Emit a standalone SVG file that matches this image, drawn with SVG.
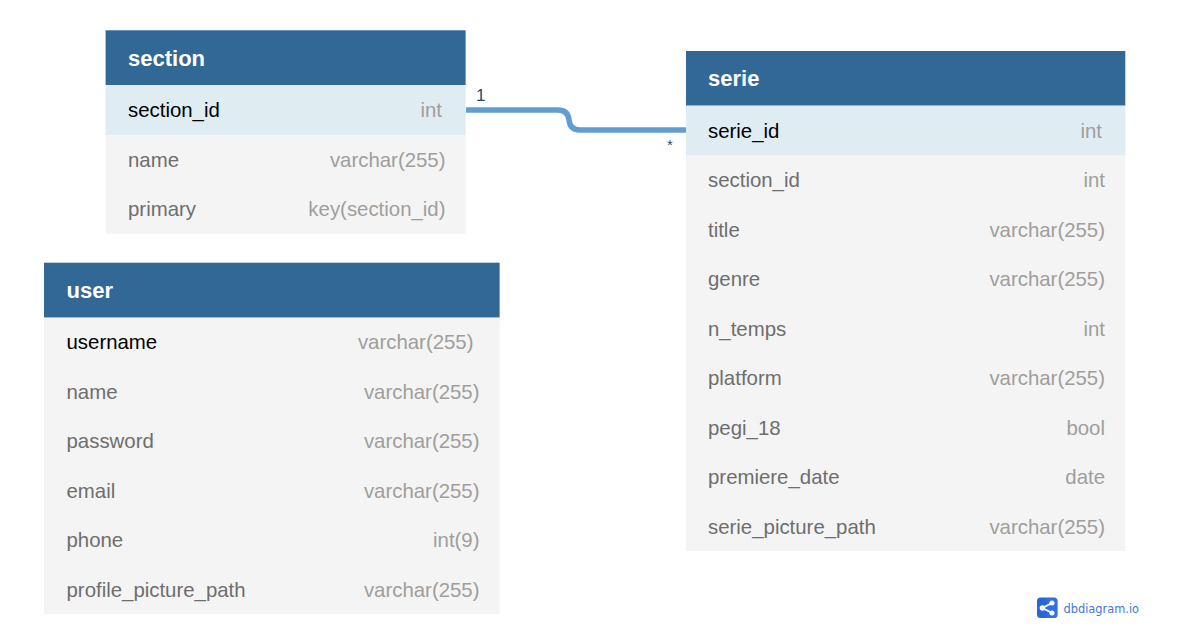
<svg xmlns="http://www.w3.org/2000/svg" width="1178" height="644" viewBox="0 0 1178 644">
<style>
text{font-family:"Liberation Sans",Arial,sans-serif}
.h{fill:#316896}
.b{fill:#f4f4f4}
.k{fill:#dfedf3}
.t{font-size:22px;font-weight:700;fill:#fff}
.f{font-size:20.4px;fill:#6e6e6e}
.p{font-size:20.4px;fill:#000}
.y{font-size:20.4px;fill:#a09e9c;text-anchor:end}
.c{fill:none;stroke:#629dcf;stroke-width:5.5}
.l{font-size:15px;fill:#1f4e6e}
</style>
<rect width="1178" height="644" fill="#fff"/>
<g id="connectors">
<path class="c" d="M466 110H558Q568 110 569 120Q570 130 580 130H686"/>
<text class="l" x="476" y="101" style="font-size:17px">1</text>
<text class="l" x="667" y="150">*</text>
</g>
<g id="section">
<rect class="b" x="105.600" y="30.300" width="360" height="203.500"/>
<rect class="h" x="105.600" y="30.300" width="360" height="54.700"/>
<rect class="k" x="105.600" y="85" width="360" height="50"/>
<text class="t" x="128" y="66">section</text>
<text class="p" x="128" y="117">section_id</text><text class="y" x="442" y="117">int</text>
<text class="f" x="128" y="167">name</text><text class="y" x="445.500" y="167">varchar(255)</text>
<text class="f" x="128" y="216">primary</text><text class="y" x="445.500" y="216">key(section_id)</text>
</g>
<g id="user">
<rect class="b" x="44" y="262.700" width="455.600" height="351.300"/>
<rect class="h" x="44" y="262.700" width="455.600" height="54.700"/>
<text class="t" x="66.500" y="298">user</text>
<text class="p" x="66.500" y="349">username</text><text class="y" x="473.500" y="349">varchar(255)</text>
<text class="f" x="66.500" y="399">name</text><text class="y" x="479.500" y="399">varchar(255)</text>
<text class="f" x="66.500" y="448">password</text><text class="y" x="479.500" y="448">varchar(255)</text>
<text class="f" x="66.500" y="498">email</text><text class="y" x="479.500" y="498">varchar(255)</text>
<text class="f" x="66.500" y="547">phone</text><text class="y" x="479.500" y="547">int(9)</text>
<text class="f" x="66.500" y="597">profile_picture_path</text><text class="y" x="479.500" y="597">varchar(255)</text>
</g>
<g id="serie">
<rect class="b" x="686" y="51" width="439.300" height="500"/>
<rect class="h" x="686" y="51" width="439.300" height="54.700"/>
<rect class="k" x="686" y="105.700" width="439.300" height="49.300"/>
<text class="t" x="708" y="86">serie</text>
<text class="p" x="708" y="138">serie_id</text><text class="y" x="1102" y="138">int</text>
<text class="f" x="708" y="187">section_id</text><text class="y" x="1105" y="187">int</text>
<text class="f" x="708" y="237">title</text><text class="y" x="1105" y="237">varchar(255)</text>
<text class="f" x="708" y="286">genre</text><text class="y" x="1105" y="286">varchar(255)</text>
<text class="f" x="708" y="336">n_temps</text><text class="y" x="1105" y="336">int</text>
<text class="f" x="708" y="385">platform</text><text class="y" x="1105" y="385">varchar(255)</text>
<text class="f" x="708" y="435">pegi_18</text><text class="y" x="1105" y="435">bool</text>
<text class="f" x="708" y="484">premiere_date</text><text class="y" x="1105" y="484">date</text>
<text class="f" x="708" y="534">serie_picture_path</text><text class="y" x="1105" y="534">varchar(255)</text>
</g>
<g id="logo">
<rect x="1037" y="597.500" width="20.500" height="20.500" rx="3.500" fill="#2a66d8"/>
<path d="M1047 598h7a3.500 3.500 0 0 1 3.500 3.500v13a3.500 3.500 0 0 1-3.500 3.500h-7z" fill="#3a7ae8" opacity="0.5"/>
<path d="M1052 603L1042.500 608L1052 613" fill="none" stroke="#fff" stroke-width="1.800"/>
<circle cx="1052" cy="603" r="2.500" fill="#fff"/><circle cx="1042.500" cy="608" r="2.800" fill="#fff"/><circle cx="1052" cy="613" r="2.500" fill="#fff"/>
<text x="1063.500" y="612.500" style="font-family:'DejaVu Sans',sans-serif;font-size:11.400px" fill="#3f78dc">dbdiagram.io</text>
</g>
</svg>
